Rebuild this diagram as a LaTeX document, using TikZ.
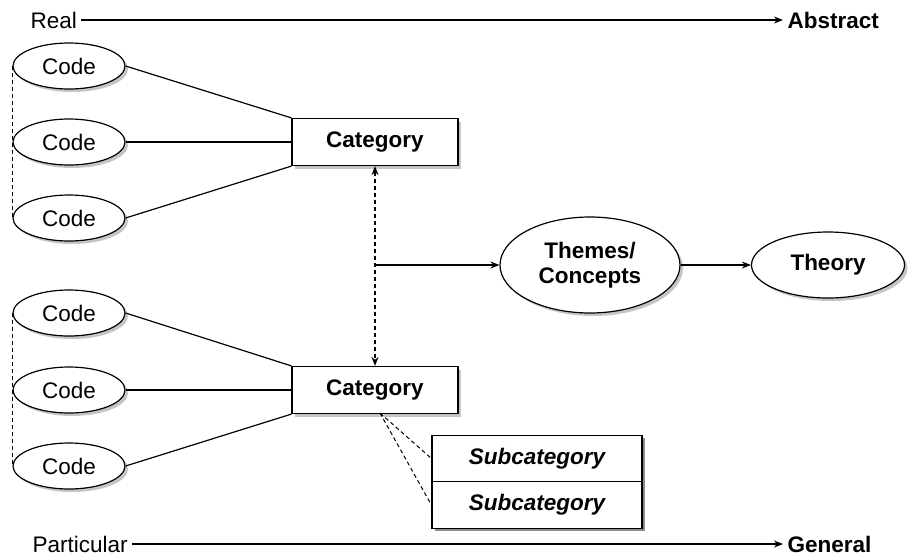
\documentclass[tikz,border=0pt]{standalone}
\usepackage{fontspec}
\setmainfont{Liberation Sans}
\usetikzlibrary{arrows.meta,shadows,shapes.geometric}
\begin{document}
\begin{tikzpicture}[x=1pt,y=-1pt,
  font=\fontsize{22.5}{26}\selectfont,
  line width=1.2pt,
  shd/.style={drop shadow={shadow xshift=3pt,shadow yshift=-3pt,fill=black!45}},
  codenode/.style={ellipse,draw,fill=white,shd,minimum width=112pt,minimum height=46pt,inner sep=0pt},
  catnode/.style={rectangle,draw,fill=white,shd,minimum width=166pt,minimum height=47pt,inner sep=0pt,font=\fontsize{22.5}{26}\selectfont\bfseries},
  bignode/.style={ellipse,draw,fill=white,shd,inner sep=0pt,font=\fontsize{22.5}{25}\selectfont\bfseries,align=center},
  subnode/.style={rectangle,draw,fill=white,minimum width=210pt,minimum height=46.5pt,inner sep=0pt,font=\fontsize{22.5}{26}\selectfont\bfseries\itshape},
  axislbl/.style={inner sep=4pt},
  tip/.style={-{Stealth[length=9pt,width=7pt]}},
  dashy/.style={dash pattern=on 4pt off 3pt}]
\useasboundingbox (0,0) rectangle (910,558);

% axes
\node[axislbl,anchor=west] (real) at (26,20) {Real};
\node[axislbl,anchor=west,font=\fontsize{22.5}{26}\selectfont\bfseries] (abstract) at (783,20) {Abstract};
\draw[tip] (real) -- (abstract);
\node[axislbl,anchor=west] (particular) at (28,544) {Particular};
\node[axislbl,anchor=west,font=\fontsize{22.5}{26}\selectfont\bfseries] (general) at (783,544) {General};
\draw[tip] (particular) -- (general);

% upper group
\node[codenode] (c1) at (69,66) {Code};
\node[codenode] (c2) at (69,142) {Code};
\node[codenode] (c3) at (69,218) {Code};
\node[catnode] (cat1) at (375,142) {Category};
\draw[dashy,line width=0.9pt] (c1.west) -- (c3.west);
\draw (c1.east) -- (cat1.north west);
\draw (c2.east) -- (cat1.west);
\draw (c3.east) -- (cat1.south west);

% lower group
\node[codenode] (c4) at (69,313) {Code};
\node[codenode] (c5) at (69,390) {Code};
\node[codenode] (c6) at (69,466) {Code};
\node[catnode] (cat2) at (375,390) {Category};
\draw[dashy,line width=0.9pt] (c4.west) -- (c6.west);
\draw (c4.east) -- (cat2.north west);
\draw (c5.east) -- (cat2.west);
\draw (c6.east) -- (cat2.south west);

% link between categories
\draw[dashy,{Stealth[length=9pt,width=7pt]}-{Stealth[length=9pt,width=7pt]}] (cat1.south) -- (cat2.north);

% themes and theory
\node[bignode,minimum width=180pt,minimum height=96pt] (themes) at (590,265) {Themes/\\Concepts};
\node[bignode,minimum width=153pt,minimum height=66pt] (theory) at (828,265) {Theory};
\coordinate (j) at (375,265);
\draw[tip] (j) -- (themes.west);
\draw[tip] (themes.east) -- (theory.west);

% subcategories
\fill[black!45] (435,438) rectangle (645,531);
\node[subnode] (s1) at (537,458.5) {Subcategory};
\node[subnode] (s2) at (537,505) {Subcategory};
\coordinate (d) at (380,413);
\draw[dashy,line width=1pt] (d) -- (s1.west);
\draw[dashy,line width=1pt] (d) -- (s2.west);
\end{tikzpicture}
\end{document}
